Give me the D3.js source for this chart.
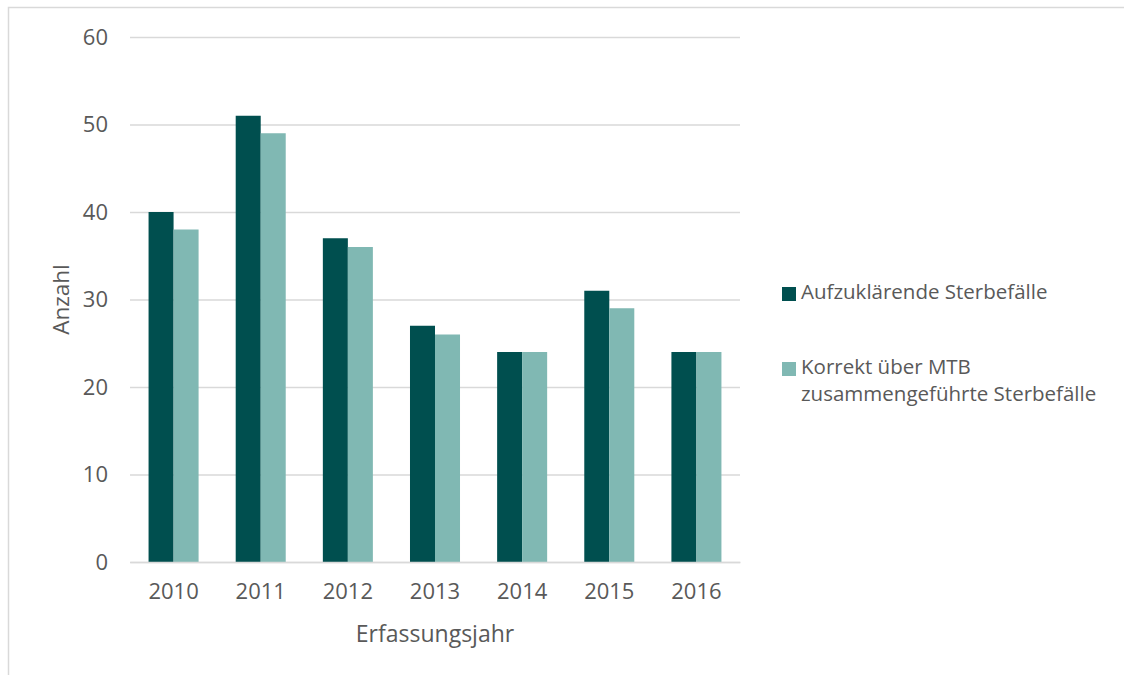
<!DOCTYPE html>
<html>
<head>
<meta charset="utf-8">
<script src="https://cdn.jsdelivr.net/npm/d3@7"></script>
<style>
  html, body { margin: 0; padding: 0; background: #fff; }
  svg { display: block; }
  text { font-family: "Open Sans", "Noto Sans", sans-serif; fill: #595959; }
</style>
</head>
<body>
<svg id="chart" width="1124" height="675"></svg>
<script>
const years = ["2010", "2011", "2012", "2013", "2014", "2015", "2016"];
const seriesNames = ["Aufzuklärende Sterbefälle", "Korrekt über MTB zusammengeführte Sterbefälle"];
const aufzuklaerend = [40, 51, 37, 27, 24, 31, 24];
const korrektMTB = [38, 49, 36, 26, 24, 29, 24];
const yTicks = [0, 10, 20, 30, 40, 50, 60];
const colors = ["#004F4F", "#80B8B3"];

const svg = d3.select("#chart");

// outer frame
svg.append("rect").attr("x", 8.5).attr("y", 7.5).attr("width", 1300).attr("height", 800)
  .attr("fill", "none").attr("stroke", "#d9d9d9").attr("stroke-width", 1.5);

const plot = { left: 130, right: 740, top: 37, bottom: 562 };

const y = d3.scaleLinear().domain([0, 60]).range([plot.bottom, plot.top]);
const x0 = d3.scaleBand().domain(years).range([plot.left, plot.right]).paddingInner(0.426).paddingOuter(0.213);
const x1 = d3.scaleBand().domain([0, 1]).range([0, x0.bandwidth()]).padding(0);

// gridlines
const yAxis = d3.axisLeft(y).tickValues(yTicks).tickSize(-(plot.right - plot.left)).tickPadding(22).tickFormat(d3.format("d"));
const gy = svg.append("g").attr("transform", `translate(${plot.left},0)`).call(yAxis);
gy.select(".domain").remove();
gy.selectAll(".tick line").attr("stroke", "#d9d9d9").attr("stroke-width", 1.5);
gy.selectAll(".tick text").attr("font-size", 22).attr("fill", "#595959")
  .style("font-family", "'Open Sans', sans-serif");

// bars
const rows = years.map((yr, i) => ({ year: yr, vals: [aufzuklaerend[i], korrektMTB[i]] }));
const groups = svg.append("g").selectAll("g").data(rows).join("g")
  .attr("transform", d => `translate(${x0(d.year)},0)`);
groups.selectAll("rect").data(d => d.vals.map((v, k) => ({ v, k }))).join("rect")
  .attr("x", d => x1(d.k))
  .attr("width", x1.bandwidth())
  .attr("y", d => y(d.v))
  .attr("height", d => y(0) - y(d.v))
  .attr("fill", d => colors[d.k]);

// x axis
const xAxis = d3.axisBottom(x0).tickSize(0).tickPadding(21);
const gx = svg.append("g").attr("transform", `translate(0,${plot.bottom})`).call(xAxis);
gx.select(".domain").attr("stroke", "#d9d9d9").attr("stroke-width", 1.5);
gx.selectAll(".tick text").attr("font-size", 22).attr("fill", "#595959")
  .style("font-family", "'Open Sans', sans-serif");

// axis titles
svg.append("text").attr("x", (plot.left + plot.right) / 2).attr("y", 642)
  .attr("text-anchor", "middle").attr("font-size", 23).text("Erfassungsjahr");
svg.append("text").attr("transform", `translate(69,${(plot.top + plot.bottom) / 2}) rotate(-90)`)
  .attr("text-anchor", "middle").attr("font-size", 22.5).text("Anzahl");

// legend
const legend = svg.append("g");
const legendItems = [
  { lines: ["Aufzuklärende Sterbefälle"], y: 287, color: colors[0] },
  { lines: ["Korrekt über MTB", "zusammengeführte Sterbefälle"], y: 362, color: colors[1] }
];
legendItems.forEach(it => {
  legend.append("rect").attr("x", 782).attr("y", it.y).attr("width", 14).attr("height", 14).attr("fill", it.color);
  it.lines.forEach((ln, j) => {
    legend.append("text").attr("x", 801).attr("y", it.y + 12 + j * 27)
      .attr("font-size", 20.5).text(ln);
  });
});
</script>
</body>
</html>
